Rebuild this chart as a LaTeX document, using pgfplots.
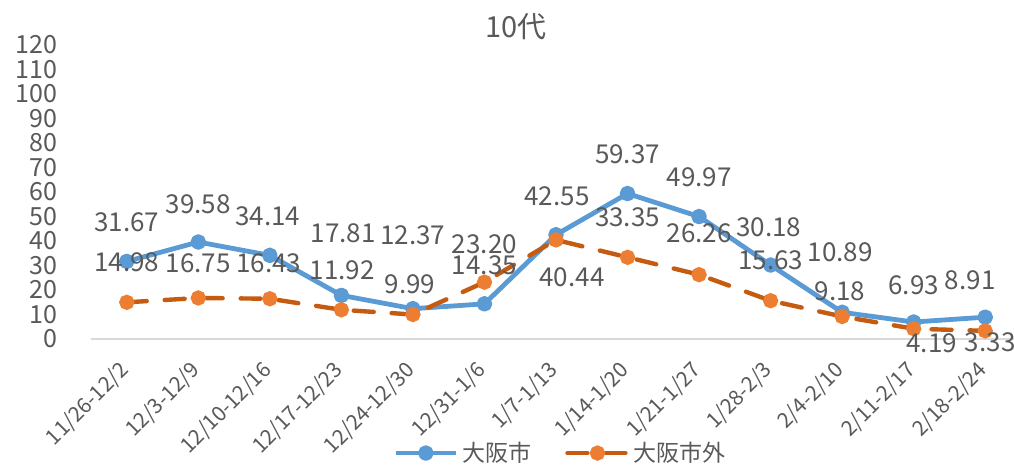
\documentclass[border=0pt]{standalone}
\usepackage{pgfplots}
\pgfplotsset{compat=1.18}
\usepackage{pgfplotstable}
\usepackage{fontspec}
\setmainfont{Noto Sans CJK JP}

\definecolor{txt}{HTML}{595959}
\definecolor{osaka}{HTML}{5B9BD5}
\definecolor{outer}{HTML}{ED7D31}
\definecolor{outerline}{HTML}{C55A11}
\definecolor{axisgray}{HTML}{D9D9D9}

% x  value  label  label shift (pt)
\pgfplotstableread{
x y lbl dx dy
0 31.67 31.67 0 19.5
1 39.58 39.58 0 19
2 34.14 34.14 -1 19.5
3 17.81 17.81 1 31
4 12.37 12.37 0 36.5
5 14.35 14.35 0 19.5
6 42.55 42.55 0.5 19.5
7 59.37 59.37 0 19.5
8 49.97 49.97 0 19.5
9 30.18 30.18 -1 19
10 10.89 10.89 -1 30
11 6.93 6.93 0 18.5
12 8.91 8.91 -7.5 18.5
}\cityTable

\pgfplotstableread{
x y lbl dx dy
0 14.98 14.98 0 20
1 16.75 16.75 0 17.5
2 16.43 16.43 -0.5 18
3 11.92 11.92 0.5 20
4 9.99 9.99 -1.5 15
5 23.20 23.20 0 19
6 40.44 40.44 8 -18.5
7 33.35 33.35 0 20
8 26.26 26.26 0 20.5
9 15.63 15.63 0 20
10 9.18 9.18 -1 12.5
11 4.19 4.19 9 -7
12 3.33 3.33 2.5 -5.5
}\outerTable

\begin{document}
\begin{tikzpicture}
\useasboundingbox (0,0) rectangle (507pt,234pt);
\begin{axis}[
    at={(45.5pt,64.5pt)}, anchor=south west,
    scale only axis,
    width=465pt, height=147pt,
    xmin=-0.5, xmax=12.5,
    ymin=0, ymax=120,
    xtick={0,...,12},
    xticklabels={11/26-12/2,12/3-12/9,12/10-12/16,12/17-12/23,12/24-12/30,12/31-1/6,1/7-1/13,1/14-1/20,1/21-1/27,1/28-2/3,2/4-2/10,2/11-2/17,2/18-2/24},
    ytick={0,10,...,120},
    major tick length=0pt,
    axis line style={draw=none},
    clip=false,
    /pgf/number format/assume math mode=true,
    tick label style={text=txt},
    yticklabel style={font=\fontsize{12.5}{12.5}\selectfont, anchor=east, xshift=-13.5pt},
    xticklabel style={font=\fontsize{10.5}{10.5}\selectfont, xshift=1.5pt, yshift=-11.5pt, anchor=east, rotate=45},
    title={10代},
    title style={at={(0.457,1.02)}, anchor=center, font=\fontsize{14.5}{14.5}\selectfont, text=txt},
    legend columns=-1,
    legend cell align=left,
    legend style={at={(0.506,-0.388)}, anchor=center, draw=none, fill=none,
        font=\fontsize{11.5}{11.5}\selectfont, text=txt,
        /tikz/every even column/.append style={column sep=15pt}},
    legend image code/.code={\draw[mark repeat=2, mark phase=2] plot coordinates {(0pt,0pt) (15pt,0pt) (30pt,0pt)};},
    every node near coord/.append style={font=\fontsize{13}{13}\selectfont, text=txt},
]
\draw[axisgray, line width=0.75pt] (axis cs:-0.5,0) -- (axis cs:12.5,0);

\addplot[color=osaka, line width=2.4pt, line join=round,
    mark=*, mark size=2.7pt, mark options={fill=osaka, draw=osaka},
    point meta=explicit symbolic, nodes near coords,
    visualization depends on={\thisrow{dx}\as\dx},
    visualization depends on={\thisrow{dy}\as\dy},
    every node near coord/.append style={anchor=center, xshift=\dx pt, yshift=\dy pt}]
    table[x=x, y=y, meta=lbl] {\cityTable};
\addlegendentry{大阪市}

\addplot[color=outerline, line width=2.2pt, dash pattern=on 10pt off 9pt, line cap=round,
    mark=*, mark size=2.7pt, mark options={solid, fill=outer, draw=outer},
    point meta=explicit symbolic, nodes near coords,
    visualization depends on={\thisrow{dx}\as\dx},
    visualization depends on={\thisrow{dy}\as\dy},
    every node near coord/.append style={anchor=center, xshift=\dx pt, yshift=\dy pt}]
    table[x=x, y=y, meta=lbl] {\outerTable};
\addlegendentry{大阪市外}
\end{axis}
\end{tikzpicture}
\end{document}
